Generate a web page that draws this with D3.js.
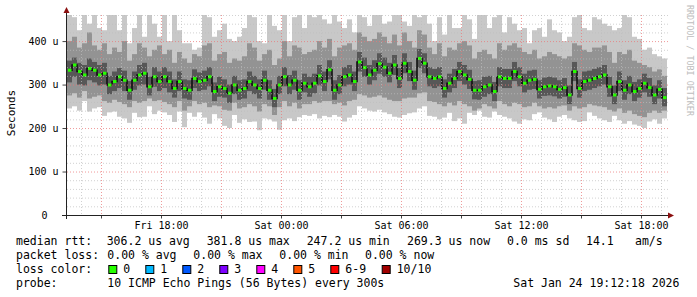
<!DOCTYPE html>
<html>
<head>
<meta charset="utf-8">
<script src="https://cdn.jsdelivr.net/npm/d3@7"></script>
<style>
  body { margin: 0; background: #fff; }
  text { font-family: "DejaVu Sans Mono", monospace; fill: #000; }
</style>
</head>
<body>
<div id="chart"></div>
<script>
// median rtt per 15 minute column (microseconds)
const med = [333,345,330,322,337,333,322,326,299,307,318,310,287,310,322,326,295,318,307,318,307,291,307,291,
  287,314,307,310,318,284,295,291,280,299,287,291,307,299,291,310,287,268,299,318,299,310,287,303,
  295,303,320,307,334,287,299,318,322,307,352,339,322,333,348,340,326,345,314,349,330,310,360,349,
  318,314,318,291,303,314,330,322,312,287,287,295,299,284,318,314,314,330,318,303,310,312,289,295,
  297,295,289,293,276,330,291,307,310,314,318,322,295,276,307,287,299,284,291,303,293,276,289,270];
// outer smoke (slowest / fastest ping)
const hi1 = [460,455,425,460,440,460,430,425,460,460,425,460,395,430,460,410,460,440,410,460,400,460,425,395,
  395,380,385,460,455,410,425,440,405,400,410,430,460,455,400,395,460,435,425,460,400,455,460,430,
  460,455,460,450,440,460,445,430,450,420,460,455,435,460,460,440,445,460,460,445,435,460,455,460,
  440,400,455,415,460,430,430,460,450,405,460,460,430,455,460,420,455,440,425,430,395,425,430,410,
  450,425,420,400,410,455,460,430,425,455,450,440,435,425,430,460,455,410,405,380,385,370,365,360];
const lo1 = [245,250,240,262,238,245,248,228,236,238,226,222,212,235,225,226,250,232,240,236,230,214,238,202,
  235,226,236,224,210,232,222,205,200,230,212,220,214,215,195,222,220,215,196,218,222,216,225,230,
  228,232,222,228,225,230,226,215,224,230,250,245,240,238,242,236,232,226,224,230,234,236,245,250,
  228,226,220,224,235,216,222,210,235,230,240,226,224,238,230,226,222,215,210,220,218,232,236,224,
  220,214,226,230,222,218,214,216,236,228,222,218,214,228,218,210,216,208,205,200,215,220,210,222];
// middle smoke
const hi2 = [400,410,385,395,420,390,380,395,370,385,375,400,355,370,395,385,365,380,390,370,380,350,375,360,
  350,370,365,390,395,355,370,375,350,360,355,365,395,385,355,370,380,345,360,400,365,390,385,370,
  375,380,400,385,405,365,385,390,395,380,420,410,400,405,420,410,395,415,390,420,400,385,425,415,
  385,370,395,365,385,380,395,400,390,360,375,380,370,360,395,380,390,395,385,375,370,380,360,365,
  375,370,365,360,365,395,390,380,375,385,385,390,375,350,375,370,380,355,350,345,340,330,335,320];
const lo2 = [275,280,270,285,268,272,275,262,258,265,260,255,248,262,258,262,268,262,264,260,255,248,262,240,
  250,262,255,258,248,252,250,242,240,258,245,248,255,250,238,255,250,230,248,262,250,258,245,255,
  255,262,258,262,262,255,258,252,262,265,278,275,270,272,275,270,265,262,262,268,270,270,280,282,
  262,260,255,250,258,252,262,255,250,240,245,255,250,245,262,255,250,258,255,248,250,258,250,245,
  248,245,250,252,240,250,245,248,255,252,250,248,242,238,245,235,240,232,228,225,235,240,235,240];
// inner smoke
const hi3 = [355,362,350,345,360,352,345,350,320,330,338,332,308,330,345,350,318,340,330,340,330,312,330,312,
  310,335,328,332,340,305,318,312,300,320,310,312,330,320,312,332,310,290,320,340,322,332,310,325,
  318,325,345,330,356,310,322,340,345,330,375,362,345,356,372,362,350,368,338,372,352,332,382,372,
  340,336,340,312,325,336,352,345,334,308,310,318,320,306,340,336,336,352,340,325,332,334,310,316,
  318,316,310,315,298,352,312,330,332,336,340,345,318,298,330,310,320,306,312,325,315,298,310,292];
const lo3 = [305,318,300,298,310,305,298,300,278,285,292,285,265,288,298,300,275,295,285,292,282,270,285,268,
  265,292,285,288,296,262,272,270,258,278,265,268,285,278,268,288,265,248,278,296,278,288,265,282,
  272,280,298,285,312,265,278,296,300,285,330,318,300,310,325,318,305,322,292,326,308,288,338,326,
  296,292,296,270,282,292,308,300,290,266,265,272,278,262,296,292,292,308,296,282,288,290,268,274,
  275,273,268,272,255,308,270,285,288,292,296,300,272,255,285,265,278,262,270,282,272,255,268,250];

const yTicks = [0, 100, 200, 300, 400];
const lossLabels = ["0", "1", "2", "3", "4", "5", "6-9", "10/10"];
const lossColors = ["#26ff00", "#00b8ff", "#0059ff", "#7e00ff", "#ff00ff", "#ff5500", "#ff0000", "#a10000"];

const W = 697, H = 297;
const svg = d3.select("#chart").append("svg").attr("width", W).attr("height", H);

const start = new Date(2026, 0, 23, 13, 18);
const end = new Date(2026, 0, 24, 19, 18);
const x = d3.scaleTime().domain([start, end]).range([67, 667]);
const y = d3.scaleLinear().domain([0, 460]).range([215, 15]).clamp(true);

const cols = med.map((m, i) => ({
  t0: d3.timeMinute.offset(start, 15 * i),
  t1: d3.timeMinute.offset(start, 15 * (i + 1)),
  med: m, hi1: hi1[i], lo1: lo1[i], hi2: hi2[i], lo2: lo2[i], hi3: hi3[i], lo3: lo3[i]
}));

// smoke bands
[["lo1", "hi1", "#c8c8c8"], ["lo2", "hi2", "#939393"], ["lo3", "hi3", "#575757"]].forEach(([lo, hi, c]) => {
  svg.append("g").selectAll("rect").data(cols).enter().append("rect")
    .attr("x", d => x(d.t0))
    .attr("width", d => x(d.t1) - x(d.t0))
    .attr("y", d => y(d[hi]))
    .attr("height", d => y(d[lo]) - y(d[hi]))
    .attr("fill", c);
});

// median steps
const stepLine = d3.line().x(d => x(d.t0) + 2.5).y(d => y(d.med)).curve(d3.curveStep);
svg.append("path").datum(cols).attr("d", stepLine)
  .attr("fill", "none").attr("stroke", "#111").attr("stroke-width", 1.6);
svg.append("g").selectAll("rect").data(cols).enter().append("rect")
  .attr("x", d => x(d.t0) + 1)
  .attr("width", 3.5)
  .attr("y", d => y(d.med) - 1.5)
  .attr("height", 3)
  .attr("fill", lossColors[0]);

// grid on top, like rrdtool
const grid = svg.append("g");
d3.range(20, 461, 20).forEach(v => {
  const major = v % 100 === 0;
  grid.append("line")
    .attr("x1", 67).attr("x2", 669).attr("y1", y(v) + 0.5).attr("y2", y(v) + 0.5)
    .attr("stroke", major ? "rgba(235,120,120,0.75)" : "rgba(190,190,190,0.7)")
    .attr("stroke-dasharray", "1,2");
});
d3.timeHour.range(start, end).forEach(t => {
  const major = t.getHours() % 3 === 0;
  grid.append("line")
    .attr("x1", Math.round(x(t)) + 0.5).attr("x2", Math.round(x(t)) + 0.5).attr("y1", 15).attr("y2", 215)
    .attr("stroke", major ? "rgba(235,120,120,0.75)" : "rgba(190,190,190,0.7)")
    .attr("stroke-dasharray", "1,2");
});

// axes
const xAxis = svg.append("g").attr("transform", "translate(0,215.5)")
  .call(d3.axisBottom(x).ticks(d3.timeHour.every(3)).tickSize(3).tickPadding(3)
    .tickFormat(d => d.getHours() % 6 === 0 ? d3.timeFormat("%a %H:%M")(d) : ""));
xAxis.select(".domain").remove();
xAxis.selectAll(".tick line").attr("stroke", "#444");
xAxis.selectAll("text").style("font-size", "10px").style("font-family", "DejaVu Sans Mono");

const yAxis = svg.append("g").attr("transform", "translate(66.5,0)")
  .call(d3.axisLeft(y).tickValues(yTicks).tickSize(4).tickPadding(4)
    .tickFormat(d => d === 0 ? "0" : d + " u"));
yAxis.select(".domain").remove();
yAxis.selectAll(".tick line").attr("stroke", "#444");
yAxis.selectAll("text").style("font-size", "10px").style("font-family", "DejaVu Sans Mono");
yAxis.selectAll(".tick").filter(d => d === 0).select("text").attr("x", -19);

svg.append("line").attr("x1", 62).attr("x2", 669).attr("y1", 215.5).attr("y2", 215.5).attr("stroke", "#222");
svg.append("line").attr("x1", 66.5).attr("x2", 66.5).attr("y1", 219).attr("y2", 12).attr("stroke", "#222");
svg.append("path").attr("d", "M668,212.5L674,215.5L668,218.5Z").attr("fill", "#8b1010");
svg.append("path").attr("d", "M63.5,13L66.5,7L69.5,13Z").attr("fill", "#8b1010");

svg.append("text").attr("transform", "translate(14.5,113) rotate(-90)")
  .attr("text-anchor", "middle").style("font-size", "11px").text("Seconds");

svg.append("text").attr("transform", "translate(686.5,5) rotate(90)")
  .style("font-size", "8.4px").style("fill", "#bdbdbd").text("RRDTOOL / TOBI OETIKER");

// legend
const legendRows = [
  [245, [[16, "median rtt:"], [106.7, "306.2 us avg"], [206.7, "381.8 us max"], [306.7, "247.2 us min"],
         [407, "269.3 us now"], [507, "0.0 ms sd"], [586, "14.1"], [635, "am/s"]]],
  [259, [[16, "packet loss:"], [107.3, "0.00 % avg"], [193.3, "0.00 % max"], [279.3, "0.00 % min"], [365, "0.00 % now"]]],
  [273, [[16, "loss color:"]]],
  [287, [[16, "probe:"], [107.3, "10 ICMP Echo Pings (56 Bytes) every 300s"], [513.3, "Sat Jan 24 19:12:18 2026"]]]
];
legendRows.forEach(([by, items]) => {
  items.forEach(([lx, s]) => {
    svg.append("text").attr("x", lx).attr("y", by).style("font-size", "11.5px").text(s);
  });
});

const boxX = [108.3, 145.3, 182.3, 219.3, 256.3, 293.3, 330.3, 381.7];
const lossItems = svg.append("g").selectAll("g").data(lossLabels).enter().append("g")
  .attr("transform", (d, i) => "translate(" + boxX[i] + ",265)");
lossItems.append("rect").attr("x", 0.5).attr("y", 0.5).attr("width", 8).attr("height", 8)
  .attr("fill", (d, i) => lossColors[i]).attr("stroke", "#000");
lossItems.append("text").attr("x", 15).attr("y", 8).style("font-size", "11.5px").text(d => d);
</script>
</body>
</html>
